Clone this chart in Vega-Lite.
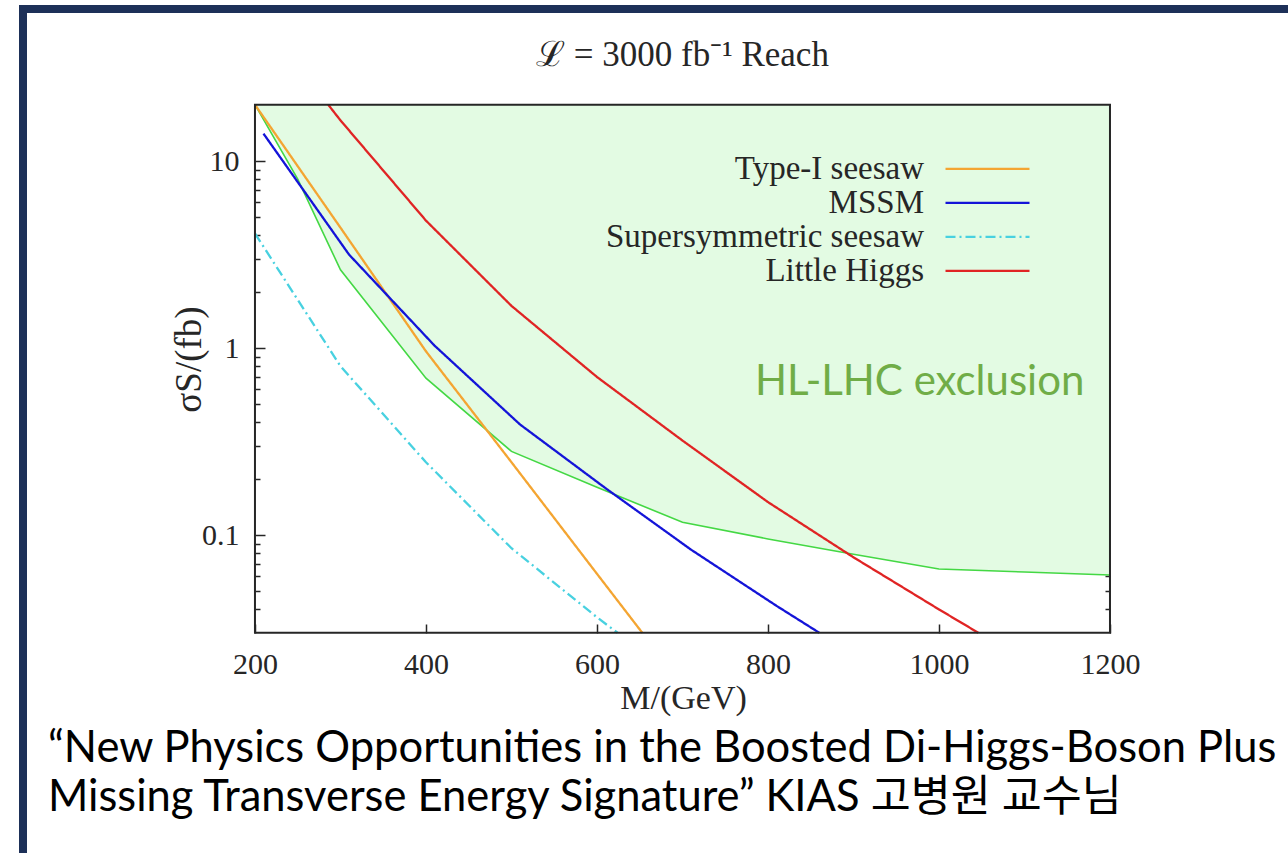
{
  "$schema": "https://vega.github.io/schema/vega-lite/v6.json",
  "width": 1265,
  "height": 844,
  "autosize": {"type": "none"},
  "padding": {"left": 23, "top": 9, "right": 0, "bottom": 0},
  "background": "white",
  "config": {
    "view": {"fill": "white", "stroke": "#1d3058", "strokeWidth": 8, "strokeDash": [1265, 2109, 844], "strokeCap": "square"},
    "axis": {
      "domain": false, "grid": false, "zindex": 1,
      "labelFont": "Liberation Serif", "labelFontSize": 30, "labelColor": "#262626",
      "tickColor": "#262626", "tickWidth": 1.5,
      "titleFont": "Liberation Serif", "titleFontSize": 34, "titleColor": "#262626", "titleFontWeight": "normal"
    },
    "legend": {
      "symbolType": "M-8.4,0H8.4", "symbolSize": 100, "symbolStrokeWidth": 2.3,
      "labelAlign": "right", "labelOffset": -80,
      "labelFont": "Liberation Serif", "labelFontSize": 33, "labelColor": "#262626", "labelLimit": 400,
      "rowPadding": -6.2, "padding": 0
    }
  },
  "datasets": {
    "curves": [
      {"model": "Type-I seesaw", "M": 200, "sigma": 20},
      {"model": "Type-I seesaw", "M": 300, "sigma": 4.4},
      {"model": "Type-I seesaw", "M": 400, "sigma": 0.96},
      {"model": "Type-I seesaw", "M": 500, "sigma": 0.245},
      {"model": "Type-I seesaw", "M": 600, "sigma": 0.062},
      {"model": "Type-I seesaw", "M": 653, "sigma": 0.03},
      {"model": "MSSM", "M": 210, "sigma": 14},
      {"model": "MSSM", "M": 310, "sigma": 3.16},
      {"model": "MSSM", "M": 410, "sigma": 1.03},
      {"model": "MSSM", "M": 510, "sigma": 0.39},
      {"model": "MSSM", "M": 610, "sigma": 0.178},
      {"model": "MSSM", "M": 710, "sigma": 0.0835},
      {"model": "MSSM", "M": 810, "sigma": 0.0418},
      {"model": "MSSM", "M": 860, "sigma": 0.03},
      {"model": "Supersymmetric seesaw", "M": 200, "sigma": 4.1},
      {"model": "Supersymmetric seesaw", "M": 300, "sigma": 0.8},
      {"model": "Supersymmetric seesaw", "M": 400, "sigma": 0.245},
      {"model": "Supersymmetric seesaw", "M": 500, "sigma": 0.085},
      {"model": "Supersymmetric seesaw", "M": 600, "sigma": 0.0363},
      {"model": "Supersymmetric seesaw", "M": 624, "sigma": 0.03},
      {"model": "Little Higgs", "M": 285.7, "sigma": 20},
      {"model": "Little Higgs", "M": 300, "sigma": 16.5},
      {"model": "Little Higgs", "M": 400, "sigma": 4.8},
      {"model": "Little Higgs", "M": 500, "sigma": 1.68},
      {"model": "Little Higgs", "M": 600, "sigma": 0.7},
      {"model": "Little Higgs", "M": 700, "sigma": 0.32},
      {"model": "Little Higgs", "M": 800, "sigma": 0.15},
      {"model": "Little Higgs", "M": 900, "sigma": 0.076},
      {"model": "Little Higgs", "M": 1000, "sigma": 0.04},
      {"model": "Little Higgs", "M": 1046, "sigma": 0.03}
    ],
    "exclusion": [
      {"M": 200, "sigma": 20},
      {"M": 250, "sigma": 8.0},
      {"M": 300, "sigma": 2.62},
      {"M": 400, "sigma": 0.69},
      {"M": 500, "sigma": 0.28},
      {"M": 600, "sigma": 0.18},
      {"M": 700, "sigma": 0.117},
      {"M": 800, "sigma": 0.0953},
      {"M": 900, "sigma": 0.0789},
      {"M": 1000, "sigma": 0.0658},
      {"M": 1100, "sigma": 0.0634},
      {"M": 1200, "sigma": 0.0611}
    ]
  },
  "layer": [
    {
      "data": {"name": "exclusion"},
      "mark": {"type": "area", "color": "#e3fbe3", "opacity": 1},
      "encoding": {
        "x": {
          "field": "M", "type": "quantitative",
          "scale": {"domain": [-71.3, 1408.2], "nice": false, "zero": false},
          "axis": {
            "orient": "bottom", "offset": -220, "values": [200, 400, 600, 800, 1000, 1200], "format": "d",
            "tickSize": -9, "labelPadding": 25,
            "title": "M/(GeV)", "titleX": 660, "titleY": 65, "titleBaseline": "middle"
          }
        },
        "y": {
          "field": "sigma", "type": "quantitative",
          "scale": {"type": "log", "domain": [0.001993, 65.0], "nice": false},
          "axis": {
            "orient": "left", "offset": -232, "values": [0.1, 1, 10], "format": "~g",
            "tickSize": -10, "labelPadding": 26,
            "title": "σS/(fb)", "titleX": -66, "titleY": 350, "titleAngle": 270, "titleBaseline": "middle", "titleFontSize": 37
          }
        },
        "y2": {"datum": 20}
      }
    },
    {
      "data": {"name": "exclusion"},
      "mark": {"type": "line", "color": "#44d844", "strokeWidth": 1.6},
      "encoding": {
        "x": {"field": "M", "type": "quantitative", "axis": null},
        "y": {
          "field": "sigma", "type": "quantitative",
          "axis": {
            "orient": "left", "offset": -232, "labels": false, "tickSize": -5, "title": null,
            "values": [0.04, 0.05, 0.06, 0.07, 0.08, 0.09, 0.2, 0.3, 0.4, 0.5, 0.6, 0.7, 0.8, 0.9, 2, 3, 4, 5, 6, 7, 8, 9]
          }
        }
      }
    },
    {
      "data": {"name": "curves"},
      "mark": {"type": "line", "strokeWidth": 2.3},
      "encoding": {
        "x": {"field": "M", "type": "quantitative", "axis": null},
        "y": {
          "field": "sigma", "type": "quantitative",
          "axis": {"orient": "right", "offset": -178, "values": [0.1, 1, 10], "labels": false, "tickSize": -10, "title": null}
        },
        "color": {
          "field": "model", "type": "nominal",
          "scale": {"domain": ["Type-I seesaw", "MSSM", "Supersymmetric seesaw", "Little Higgs"], "range": ["#f4a532", "#1414d8", "#48d1e0", "#e02424"]},
          "legend": {"title": null, "orient": "none", "legendX": 948, "legendY": 143.3}
        },
        "strokeDash": {
          "field": "model", "type": "nominal",
          "scale": {"domain": ["Type-I seesaw", "MSSM", "Supersymmetric seesaw", "Little Higgs"], "range": [[1, 0], [1, 0], [10, 4, 2, 4], [1, 0]]},
          "legend": {"title": null, "orient": "none", "legendX": 948, "legendY": 143.3}
        }
      }
    },
    {
      "data": {"values": [{}]},
      "mark": {"type": "rect", "filled": false, "color": "#262626", "strokeWidth": 2},
      "encoding": {
        "x": {"datum": 200, "type": "quantitative", "axis": null},
        "x2": {"datum": 1200},
        "y": {
          "datum": 0.03, "type": "quantitative",
          "axis": {
            "orient": "right", "offset": -178, "labels": false, "tickSize": -5, "title": null,
            "values": [0.04, 0.05, 0.06, 0.07, 0.08, 0.09, 0.2, 0.3, 0.4, 0.5, 0.6, 0.7, 0.8, 0.9, 2, 3, 4, 5, 6, 7, 8, 9]
          }
        },
        "y2": {"datum": 20}
      }
    },
    {
      "data": {"values": [{}]},
      "layer": [
        {
          "mark": {"type": "text", "text": "ℒ = 3000 fb⁻¹ Reach", "font": "Liberation Serif", "fontSize": 35, "color": "#262626", "align": "center", "baseline": "middle"},
          "encoding": {"x": {"datum": 700, "type": "quantitative", "axis": null}, "y": {"datum": 36.9, "type": "quantitative", "axis": null}}
        },
        {
          "mark": {"type": "text", "text": "HL-LHC exclusion", "font": "Lato", "fontSize": 42, "color": "#70ad47", "align": "left", "baseline": "alphabetic"},
          "encoding": {"x": {"datum": 784.8, "type": "quantitative", "axis": null}, "y": {"datum": 0.561, "type": "quantitative", "axis": null}}
        },
        {
          "mark": {
            "type": "text",
            "text": ["“New Physics Opportunities in the Boosted Di-Higgs-Boson Plus", "Missing Transverse Energy Signature” KIAS 고병원 교수님"],
            "font": "Lato, Noto Sans CJK KR", "fontSize": 43.5, "lineHeight": 49, "color": "#000000", "align": "left", "baseline": "alphabetic"
          },
          "encoding": {"x": {"datum": -42.1, "type": "quantitative", "axis": null}, "y": {"datum": 0.0061, "type": "quantitative", "axis": null}}
        }
      ]
    }
  ],
  "resolve": {"axis": {"x": "independent", "y": "independent"}}
}
